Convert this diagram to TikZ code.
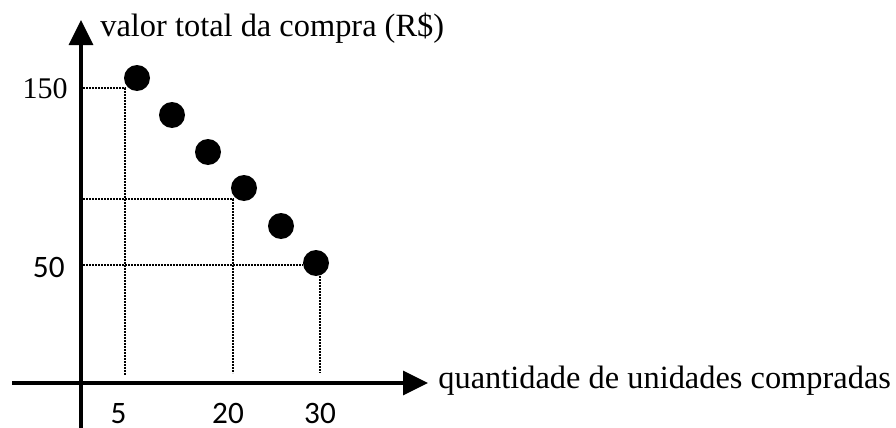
\documentclass[tikz,border=0pt]{standalone}
\usepackage{fontspec}
\setmainfont{Liberation Serif}
\newfontfamily\numfont{Carlito}
\usetikzlibrary{arrows.meta}
\tikzset{
	axis/.style={line width=1.7pt,-{Triangle[length=12.5pt,width=12pt]}},
	guide/.style={line width=1.1pt,dash pattern=on 0.9pt off 0.6pt},
	dot/.style={circle,fill,inner sep=0pt,minimum size=13pt},
	lbl/.style={inner sep=0pt,font=\fontsize{16.2}{19}\selectfont},
	tick/.style={inner sep=0pt,font=\numfont\fontsize{15.6}{18}\selectfont}
}
\begin{document}
\begin{tikzpicture}[x=0.5pt,y=-0.5pt]
		\useasboundingbox (0,0) rectangle (896,428);
		% axes
		\coordinate (o) at (81,383);
		\coordinate (ybot) at (81,428);
		\coordinate (ytop) at (81,20);
		\coordinate (xleft) at (12,383);
		\coordinate (xright) at (428,383);
		\draw[axis] (ybot) -- (ytop);
		\draw[axis] (xleft) -- (xright);
		% points
		\node[dot] (p1) at (137,78) {};
		\node[dot] (p2) at (172,115) {};
		\node[dot] (p3) at (208,152) {};
		\node[dot] (p4) at (244,188) {};
		\node[dot] (p5) at (281,226) {};
		\node[dot] (p6) at (316,263) {};
		% guide lines
		\coordinate (a1) at (83,88);
		\coordinate (a2) at (83,199);
		\coordinate (a3) at (83,265);
		\coordinate (c1) at (125,88);
		\coordinate (c2) at (233,199);
		\coordinate (c3) at (320,276);
		\coordinate (b1) at (125,375);
		\coordinate (b2) at (233,373);
		\coordinate (b3) at (320,373);
		\draw[guide] (a1) -- (c1) -- (b1);
		\draw[guide] (a2) -- (c2) -- (b2);
		\draw[guide] (a3) -- (a3 -| p6.west);
		\draw[guide] (c3) -- (b3);
		% labels
		\node[lbl,anchor=base west] (ylabel) at (100,37) {valor total da compra (R\$)};
		\node[lbl,anchor=base west] (xlabel) at (438,388) {quantidade de unidades compradas};
		\node[inner sep=0pt,font=\fontsize{15}{18}\selectfont,anchor=base east] (t150) at (68,98) {150};
		\node[tick,anchor=base east] (t50) at (65,277) {50};
		\node[tick,anchor=base] (t5) at (118.5,423) {5};
		\node[tick,anchor=base] (t20) at (228,423) {20};
		\node[tick,anchor=base] (t30) at (320,423) {30};
	\end{tikzpicture}
\end{document}
